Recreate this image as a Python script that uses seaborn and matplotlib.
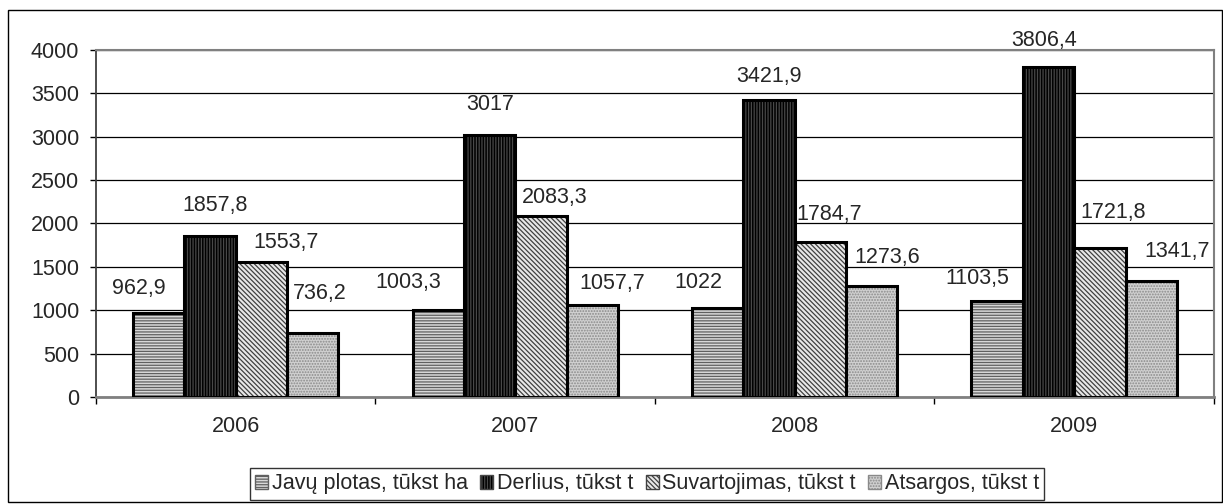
import seaborn as sns
import matplotlib.pyplot as plt
import matplotlib.patches as mpatches
import pandas as pd

years = ['2006', '2007', '2008', '2009']
series = ['Javų plotas, tūkst ha', 'Derlius, tūkst t',
          'Suvartojimas, tūkst t', 'Atsargos, tūkst t']
plotas = [962.9, 1003.3, 1022, 1103.5]
derlius = [1857.8, 3017, 3421.9, 3806.4]
suvartojimas = [1553.7, 2083.3, 1784.7, 1721.8]
atsargos = [736.2, 1057.7, 1273.6, 1341.7]

# label nudges (pixels: dx, dy of label centre above bar top), as in the original
label_dx = [[-20, -30, -19, -20], [5, 1, 0, -4], [25, 14, 9, 13], [7, 20, 15, 26]]
label_dy = [[25, 27, 26, 23], [30, 31, 24, 26], [20, 19, 28, 35], [40, 22, 29, 29]]

# face colour, hatch colour, hatch
styles = [('#d8d8d8', '#606060', '------'),
          ('#000000', '#484848', '||||||'),
          ('#e8e8e8', '#404040', '\\\\\\\\\\\\\\'),
          ('#d0d0d0', '#8a8a8a', '......')]

rows = []
for name, vals in zip(series, [plotas, derlius, suvartojimas, atsargos]):
    for y, v in zip(years, vals):
        rows.append({'year': y, 'series': name, 'value': v})
df = pd.DataFrame(rows)

sns.set_style('white')
plt.rcParams['font.family'] = ['Liberation Sans', 'DejaVu Sans']
plt.rcParams['hatch.linewidth'] = 0.9
FS = 15.5

fig = plt.figure(figsize=(12.23, 5.04), dpi=100)
ax = fig.add_axes([0.0785, 0.2125, 0.9141, 0.6885])

ax.set_axisbelow(True)
ax.yaxis.grid(True, color='black', linewidth=0.9)

sns.barplot(data=df, x='year', y='value', hue='series', hue_order=series,
            order=years, width=0.735, gap=0, ax=ax, legend=False,
            palette=[s[0] for s in styles], saturation=1)

n = len(years)
for i, patch in enumerate(ax.patches[:n * len(series)]):
    face, hcol, hatch = styles[i // n]
    patch.set_facecolor(face)
    patch.set_edgecolor(hcol)
    patch.set_hatch(hatch)
    patch.set_linewidth(0)
    ax.add_patch(mpatches.Rectangle(patch.get_xy(), patch.get_width(), patch.get_height(),
                                    fill=False, edgecolor='black', linewidth=2.2, zorder=3))

px = 72 / fig.dpi
for c, cont in enumerate(ax.containers):
    vals = [plotas, derlius, suvartojimas, atsargos][c]
    for j, (bar, v) in enumerate(zip(cont, vals)):
        ax.annotate(f'{v:g}'.replace('.', ','),
                    xy=(bar.get_x() + bar.get_width() / 2, bar.get_height()),
                    xytext=(label_dx[c][j] * px, label_dy[c][j] * px),
                    textcoords='offset points', ha='center', va='center',
                    fontsize=FS)

ax.set_ylim(0, 4000)
ax.set_yticks(range(0, 4001, 500))
ax.set_xlim(-0.5, n - 0.5)
ax.set_xlabel('')
ax.set_ylabel('')
ax.tick_params(axis='y', labelsize=FS, length=4, width=1, direction='out', left=True, color='black', pad=8)
ax.tick_params(axis='x', which='major', labelsize=FS, length=0, pad=14)
ax.set_xticks([i - 0.5 for i in range(n + 1)], minor=True)
ax.tick_params(axis='x', which='minor', length=5, width=1, bottom=True, color='black')

for side in ['top', 'right']:
    ax.spines[side].set_color('#808080')
    ax.spines[side].set_linewidth(1.5)
ax.spines['left'].set_color('#404040')
ax.spines['left'].set_linewidth(1.3)
ax.spines['bottom'].set_color('#808080')
ax.spines['bottom'].set_linewidth(2)

handles = [mpatches.Patch(facecolor=s[0], edgecolor=s[1], hatch=s[2], linewidth=1)
           for s in styles]
leg = fig.legend(handles, series, loc='center left', bbox_to_anchor=(0.2044, 0.0397),
                 ncol=4, frameon=True, fancybox=False, edgecolor='black',
                 fontsize=FS, handlelength=0.6, handleheight=0.6,
                 handletextpad=0.15, columnspacing=0.6, borderpad=0.25,
                 borderaxespad=0)
leg.get_frame().set_linewidth(1)

fig.add_artist(mpatches.Rectangle((0.0065, 0.004), 0.993, 0.976, transform=fig.transFigure,
                                  fill=False, edgecolor='black', linewidth=1))

fig.savefig('out.png', dpi=100)
